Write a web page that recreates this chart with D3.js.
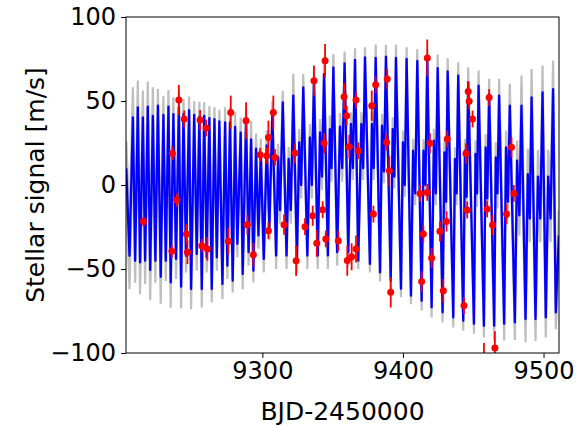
<!DOCTYPE html>
<html><head><meta charset="utf-8">
<script src="https://cdn.jsdelivr.net/npm/d3@7"></script>
<style>body{margin:0;background:#fff}text{font-family:"DejaVu Sans",sans-serif}</style>
</head><body><svg id="c" width="586" height="426"></svg>
<script>
// ---- data ----
// local maxima of the stellar model (time, value, 1-sigma band)
const maxT = [9203.2,9207.9,9211.4,9215.0,9218.5,9222.1,9225.7,9229.6,9233.2,9236.7,9240.6,9243.9,9247.9,9251.5,9255.2,9258.6,9262.3,9265.9,9269.4,9273.5,9277.0,9280.6,9284.6,9288.4,9292.0,9295.5,9298.9,9303.1,
  9307.1,9311.2,9314.5,9318.7,9322.0,9326.2,9329.1,9333.8,9336.7,9341.0,9343.9,9348.0,9350.5,9355.2,9358.5,
  9363.0,9365.9,9370.4,9373.0,9377.9,9380.6,9385.1,9387.9,9392.7,9395.0,9400.0,9402.6,9407.2,9410.2,9414.6,9417.3,9422.0,9424.7,9429.5,9431.8,9437.0,9439.3,9444.1,9446.4,9451.6,9453.8,9458.8,9461.3,9466.0,9468.4,9473.3,9476.0,9481.2,9484.3,9488.8,9491.5,9496.0,9499.3,9503.3,9506.8,9510.9];
const maxV = [10,40.2,46.2,40.2,46.6,41.2,47.2,41.8,46.6,42.2,46.2,42.2,44.6,41.8,40.6,41.2,39.8,39.2,37.8,37.2,37.2,34.6,31.2,38.2,27.2,21.6,18.6,23.6,
  41.8,16.6,49.2,15.6,53.2,25.4,58.1,28.3,62.1,31.3,66.0,33.3,70.0,34.8,72.4,
  36.3,74.4,36.3,76.0,36.3,75.6,35.3,76.4,33.3,75.6,25.4,75.0,20.4,73.8,20.4,73.8,26.4,69.6,19.4,67.6,15.5,65.1,20.4,61.1,18.5,59.1,22.4,54.2,16.4,53.2,22.4,47.2,14.5,47.2,6.5,52.1,5.0,55.1,5.0,57.1,-30];
const maxS = [16,18,16,16,15,17,10,11,10,10,9,9,8,8,9,8,7,7,7,9,9,9,9,9,11,9,9,9,
  8,8,7,7,13,8,8,8,8,8,10,8,8,8,7,
  7,7,7,6,7,8,7,7,7,8,7,7,7,7,7,7,7,8,7,8,7,8,7,9,8,9,8,9,9,10,10,13,12,18,15,17,16,16,16,17,15];
// local minima of the stellar model
const minT = [9205.5,9209.5,9213.0,9216.6,9220.2,9223.9,9227.7,9231.3,9234.8,9238.6,9242.2,9245.7,9249.3,9253.3,9256.9,9260.4,9264.0,9267.6,9271.6,9275.1,9278.9,9282.2,9286.0,9290.2,9293.6,9297.2,9301.0,9305.0,
  9309.8,9312.6,9317.2,9320.2,9324.6,9327.6,9332.0,9335.2,9339.4,9342.4,9346.6,9349.2,9353.2,9356.8,
  9361.1,9364.4,9368.2,9371.7,9376.5,9379.2,9383.7,9386.5,9391.3,9393.9,9398.6,9401.3,9405.7,9408.7,9413.3,9416.0,9420.4,9423.4,9428.2,9430.7,9435.8,9438.2,9442.9,9445.3,9450.5,9452.7,9457.6,9460.0,9464.9,9467.2,9472.0,9474.7,9479.6,9482.8,9487.2,9490.2,9494.3,9497.7,9501.6,9505.0,9508.7];
const minV = [-42.1,-45.1,-46.1,-45.1,-50.6,-45.1,-54.6,-45.1,-58.0,-44.0,-60.5,-42.1,-61.9,-41.1,-61.9,-43.1,-61.9,-43.1,-58.9,-48.0,-57.0,-35.0,-53.0,-40.0,-51.0,-30,-44,-25,
  -42,-15,-42,-15,-44,0,-42,0,-42,5,-42,10,-40,10,
  -40,10,-45,10,-47,10,-52,8,-57,5,-61.8,0,-65.9,-5,-68.9,0,-72.8,-5,-75.8,-10,-78.8,-5,-80.8,-7,-82.6,-5,-83.8,-8,-83.8,-5,-82.6,-10,-81.8,-18,-79.8,-20,-79.8,-20,-78.8,-20,-75.8];
const minS = [20,13,19,14,18,13,16,12,15,12,13,10,12,10,11,9,8,8,9,8,7,8,9,8,7,8,8,8,
  8,8,8,8,8,8,8,8,8,8,8,8,8,8,
  8,7,5,7,5,7,5.5,7,6,7,5,7,5,7,6,7,6,7,6,7,6,7,6,7,6,8,7,8,9,9,10,10,10.5,12,14,14,13,14,12,14,10];
// observed RVs (time, value, error)
const obsT = [9215.4,9236.0,9239.2,9240.6,9244.4,9246.0,9246.7,9235.6,9255.7,9260.0,9256.9,9260.9,9277.5,9275.8,9288.4,9289.3,9293.6,9298.4,9303.1,9304.3,9304.3,9307.8,9309.0,9315.4,9323.2,9324.0,9330.3,9335.8,9336.7,9338.7,9342.9,9343.9,9344.6,9345.1,9354.0,9358.1,9360.0,9360.4,9363.5,9361.8,9366.6,9366.6,9368.2,9377.8,9379.0,9380.6,9388.8,9388.4,9390.3,9391.3,9412.1,9417.3,9417.3,9413.3,9414.5,9419.2,9420.4,9426.3,9428.7,9431.0,9431.5,9443.4,9444.8,9445.7,9446.4,9447.1,9449.5,9457.6,9459.9,9461.3,9463.7,9465.4,9473.7,9477.2,9478.9];
const obsV = [-21.7,18.8,-8.9,50.6,39.3,-29.2,-40.1,-39.5,38.7,33.9,-36.1,-38.1,43.2,-33.5,38.3,-23.6,-41.5,18.0,17.4,28.3,-27.2,43.2,16.4,-23.6,19.0,-45.1,-24.8,-18.3,62.1,-34.7,-14.7,24.8,74.0,-32.1,-33.2,52.6,41.2,-45.0,-42.7,22.8,50.6,-38.1,20.4,47.2,-17.3,59.7,63.1,25.4,8.5,-63.9,-5.0,-4.4,75.6,-57.4,-29.2,24.8,-43.5,-27.6,-62.9,-21.7,27.4,-71.8,18.8,-14.9,55.7,49.8,39.3,-106,-14.3,52.1,-23.8,-97.0,-17.3,22.4,-5.0];
const obsE = [3,4,4,9,5,6,7,4,6,5,4,7,10,8,11,6,7,4,5,10,5,10,5,6,6,9,5,6,9,8,5,6,10,5,6,8,6,9,8,7,5,8,5,9,5,5,6,5,9,9,5,5,11,6,5,6,6,6,7,6,5,5,6,5,6,5,5,12,5,5,6,10,6,6,5];
const xTicks = [9300, 9400, 9500];
const yTicks = [-100, -50, 0, 50, 100];
const xLabel = "BJD-2450000";
const yLabel = "Stellar signal [m/s]";

// ---- drawing ----
const W = 586, H = 426, m = {l:126, t:17, r:27, b:73};
const svg = d3.select("#c");
const x = d3.scaleLinear().domain([9203, 9511]).range([m.l, W - m.r]);
const y = d3.scaleLinear().domain([-100, 100]).range([H - m.b, m.t]);

const model = maxT.map((t,i)=>({t, v:maxV[i], s:maxS[i]}))
  .concat(minT.map((t,i)=>({t, v:minV[i], s:minS[i]})))
  .sort((a,b)=>a.t-b.t);
const obs = obsT.map((t,i)=>({t, v:obsV[i], e:obsE[i]}));

svg.append("defs").append("clipPath").attr("id","clip").append("rect")
  .attr("x", m.l).attr("y", m.t).attr("width", W-m.l-m.r).attr("height", H-m.t-m.b);
const g = svg.append("g").attr("clip-path","url(#clip)");

g.append("path").datum(model)
  .attr("d", d3.area().curve(d3.curveLinear).x(d=>x(d.t)).y0(d=>y(d.v-d.s)).y1(d=>y(d.v+d.s)))
  .attr("fill","#bfbfbf").attr("stroke","#bfbfbf").attr("stroke-width",2.2);
g.append("path").datum(model)
  .attr("d", d3.line().curve(d3.curveLinear).x(d=>x(d.t)).y(d=>y(d.v)))
  .attr("fill","none").attr("stroke","#0000ff").attr("stroke-width",2.3).attr("stroke-linejoin","round");

const pts = g.append("g");
pts.selectAll("line").data(obs).join("line")
  .attr("x1",d=>x(d.t)).attr("x2",d=>x(d.t))
  .attr("y1",d=>y(d.v-d.e)).attr("y2",d=>y(d.v+d.e))
  .attr("stroke","#ff0000").attr("stroke-width",1.8);
pts.selectAll("circle").data(obs).join("circle")
  .attr("cx",d=>x(d.t)).attr("cy",d=>y(d.v)).attr("r",3.5).attr("fill","#ff0000");

// axes
const ax = svg.append("g");
ax.append("rect").attr("x",m.l).attr("y",m.t).attr("width",W-m.l-m.r).attr("height",H-m.t-m.b)
  .attr("fill","none").attr("stroke","#000").attr("stroke-width",1);
const xa = ax.append("g").attr("transform",`translate(0,${H-m.b})`)
  .call(d3.axisBottom(x).tickValues(xTicks).tickFormat(d3.format("d")).tickSize(4.9).tickPadding(4));
const ya = ax.append("g").attr("transform",`translate(${m.l},0)`)
  .call(d3.axisLeft(y).tickValues(yTicks).tickFormat(d=>d<0?"\u2212"+Math.abs(d):String(d)).tickSize(4.9).tickPadding(5));
[xa,ya].forEach(a=>{a.select(".domain").remove();
  a.selectAll("text").attr("font-family","DejaVu Sans").attr("font-size",24).attr("fill","#000");
  a.selectAll("line").attr("stroke","#000");});
svg.append("text").attr("x",(m.l+W-m.r)/2).attr("y",420).attr("text-anchor","middle")
  .attr("font-size",25).attr("fill","#000").text(xLabel);
svg.append("text").attr("transform",`translate(44,${(m.t+H-m.b)/2}) rotate(-90)`).attr("text-anchor","middle")
  .attr("font-size",25).attr("fill","#000").text(yLabel);
</script></body></html>
